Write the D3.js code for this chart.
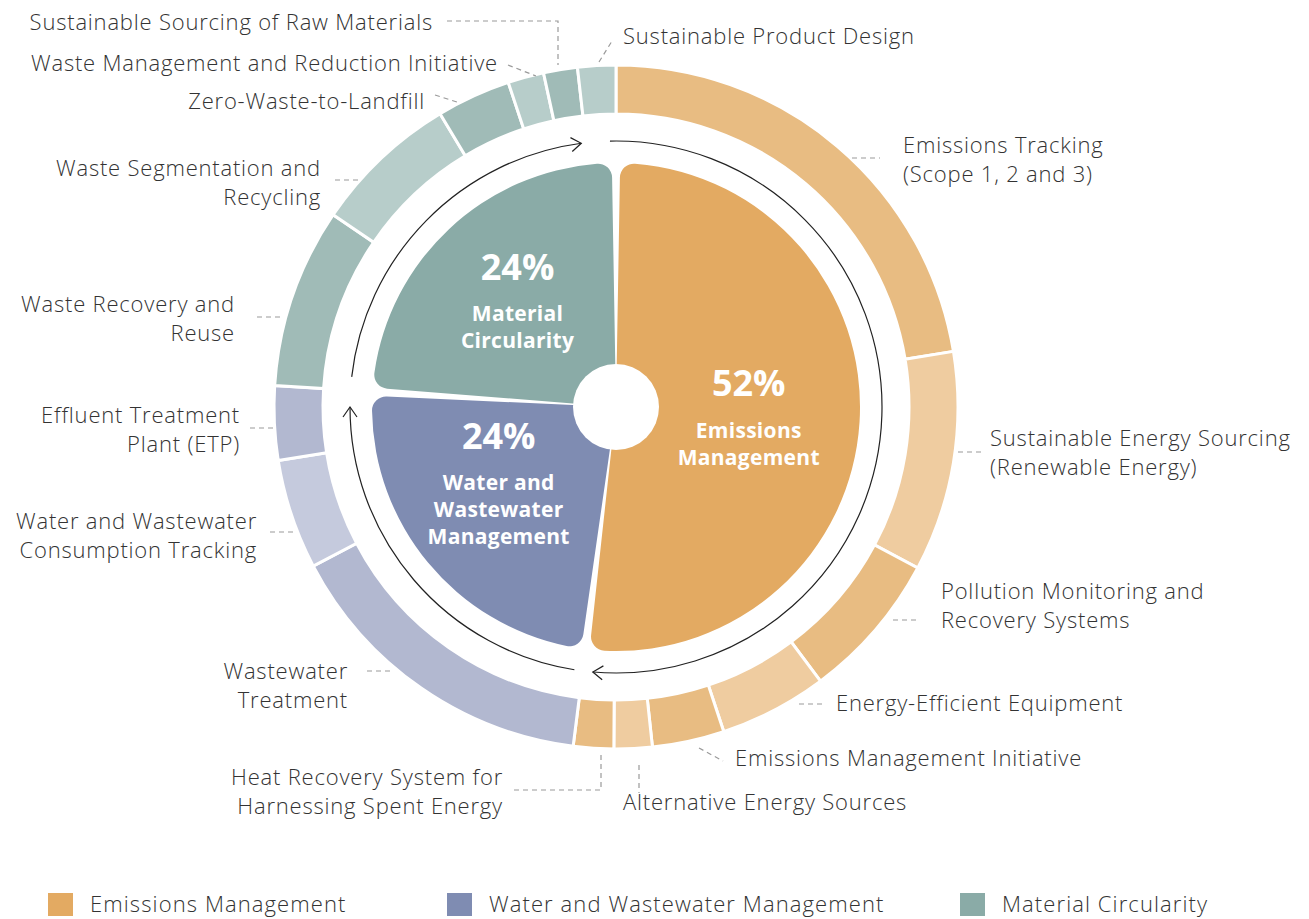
<!DOCTYPE html>
<html>
<head>
<meta charset="utf-8">
<script src="https://cdn.jsdelivr.net/npm/d3@7"></script>
<style>
  body { margin: 0; background: #fff; }
  text { font-family: "Open Sans", Roboto, "Liberation Sans", sans-serif; }
</style>
</head>
<body>
<div id="chart"></div>
<script>
// inner pie: the three focus areas
const categories = ["Emissions Management", "Water and Wastewater Management", "Material Circularity"];
const categoryShare = [52, 24, 24];
const categoryPct = ["52%", "24%", "24%"];

// outer ring: initiatives, clockwise from 12 o'clock
const initiatives = [
  "Emissions Tracking (Scope 1, 2 and 3)",
  "Sustainable Energy Sourcing (Renewable Energy)",
  "Pollution Monitoring and Recovery Systems",
  "Energy-Efficient Equipment",
  "Emissions Management Initiative",
  "Alternative Energy Sources",
  "Heat Recovery System for Harnessing Spent Energy",
  "Wastewater Treatment",
  "Water and Wastewater Consumption Tracking",
  "Effluent Treatment Plant (ETP)",
  "Waste Recovery and Reuse",
  "Waste Segmentation and Recycling",
  "Zero-Waste-to-Landfill",
  "Waste Management and Reduction Initiative",
  "Sustainable Sourcing of Raw Materials",
  "Sustainable Product Design"
];
const initiativeShare = [22.4, 10.4, 7.0, 5.1, 3.4, 1.8, 1.9, 15.3, 5.2, 3.5, 8.5, 6.9, 3.5, 1.7, 1.6, 1.8];
const initiativeGroup = [0, 0, 0, 0, 0, 0, 0, 1, 1, 1, 2, 2, 2, 2, 2, 2];

// colours
const mainColor = ["#E3AA62", "#7F8CB2", "#8AABA7"];
const shadeColor = [["#E8BC82", "#EFCCA0"], ["#B2B8D0", "#C5CADD"], ["#A0BBB7", "#B7CDCA"]];

// label placement (text lines, anchor point, leader polyline)
const labelLayout = [
  { lines: ["Emissions Tracking", "(Scope 1, 2 and 3)"], x: 903, y: 144, a: "start", lead: [[852, 158], [880, 158]] },
  { lines: ["Sustainable Energy Sourcing", "(Renewable Energy)"], x: 990, y: 437, a: "start", lead: [[958, 452], [985, 452]] },
  { lines: ["Pollution Monitoring and", "Recovery Systems"], x: 941, y: 590, a: "start", lead: [[893, 620], [920, 620]] },
  { lines: ["Energy-Efficient Equipment"], x: 836, y: 702, a: "start", lead: [[799, 704], [825, 704]] },
  { lines: ["Emissions Management Initiative"], x: 735, y: 757, a: "start", lead: [[699, 748], [723, 761]] },
  { lines: ["Alternative Energy Sources"], x: 623, y: 801, a: "start", lead: [[639, 765], [639, 793]] },
  { lines: ["Heat Recovery System for", "Harnessing Spent Energy"], x: 503, y: 776, a: "end", lead: [[601, 755], [601, 790], [512, 790]] },
  { lines: ["Wastewater", "Treatment"], x: 348, y: 670, a: "end", lead: [[367, 671], [393, 671]] },
  { lines: ["Water and Wastewater", "Consumption Tracking"], x: 257, y: 520, a: "end", lead: [[270, 532], [297, 532]] },
  { lines: ["Effluent Treatment", "Plant (ETP)"], x: 240, y: 414, a: "end", lead: [[250, 428], [273, 428]] },
  { lines: ["Waste Recovery and", "Reuse"], x: 235, y: 303, a: "end", lead: [[257, 317], [283, 317]] },
  { lines: ["Waste Segmentation and", "Recycling"], x: 321, y: 167, a: "end", lead: [[335, 180], [362, 180]] },
  { lines: ["Zero-Waste-to-Landfill"], x: 425, y: 100, a: "end", lead: [[435, 95], [460, 103]] },
  { lines: ["Waste Management and Reduction Initiative"], x: 498, y: 62, a: "end", lead: [[508, 65], [536, 76]] },
  { lines: ["Sustainable Sourcing of Raw Materials"], x: 433, y: 21, a: "end", lead: [[447, 21], [558, 21], [558, 65]] },
  { lines: ["Sustainable Product Design"], x: 623, y: 35, a: "start", lead: [[599, 62], [612, 41]] }
];
const centerLines = [["Emissions", "Management"], ["Water and", "Wastewater", "Management"], ["Material", "Circularity"]];
const centerNudge = [[-5, 4], [-11, -9], [-4, -3]];

const width = 1309, height = 919;
const cx = 616, cy = 407;

const svg = d3.select("#chart").append("svg")
  .attr("width", width).attr("height", height);

const g = svg.append("g").attr("transform", `translate(${cx},${cy})`);

// outer ring
const ringPie = d3.pie().sort(null).value((d) => d.v);
const ringData = ringPie(initiatives.map((name, i) => ({ name, v: initiativeShare[i], grp: initiativeGroup[i], i })));
const ringArc = d3.arc().innerRadius(293).outerRadius(342);

// shade alternates inside each group
const groupIndex = {};
ringData.forEach((d) => {
  const k = d.data.grp;
  groupIndex[k] = (groupIndex[k] ?? -1) + 1;
  d.shade = shadeColor[k][groupIndex[k] % 2];
});

g.append("g").selectAll("path")
  .data(ringData)
  .join("path")
  .attr("d", ringArc)
  .attr("fill", (d) => d.shade)
  .attr("stroke", "#fff")
  .attr("stroke-width", 3);

// inner pie
const pie = d3.pie().sort(null).value((d) => d);
const pieData = pie(categoryShare);
const arc = d3.arc().innerRadius(0).outerRadius(244).cornerRadius(14).padAngle(0.034);

g.append("g").selectAll("path")
  .data(pieData)
  .join("path")
  .attr("d", arc)
  .attr("fill", (d, i) => mainColor[i]);

g.append("circle").attr("r", 43).attr("fill", "#fff");

// labels inside the pie
const labelArc = d3.arc().innerRadius(138).outerRadius(138);
pieData.forEach((d, i) => {
  let [x, y] = labelArc.centroid(d);
  x += centerNudge[i][0];
  y += centerNudge[i][1];
  const lines = centerLines[i];
  const span = 47 + 27 * (lines.length - 1);
  const top = y - span / 2;
  const t = g.append("g").attr("fill", "#fff").attr("text-anchor", "middle");
  t.append("text")
    .attr("x", x).attr("y", top)
    .attr("dominant-baseline", "central")
    .attr("font-size", 36).attr("font-weight", 700)
    .text(categoryPct[i]);
  lines.forEach((l, j) => {
    t.append("text")
      .attr("x", x).attr("y", top + 47 + j * 27)
      .attr("dominant-baseline", "central")
      .attr("font-size", 21).attr("font-weight", 700)
      .attr("letter-spacing", 0.3)
      .text(l);
  });
});

// arrows around the pie (clockwise)
const arrowR = 266;
const arrowSpans = [[-1.3, 185], [189, 270], [276.5, 352.5]];
const rad = (deg) => (deg * Math.PI) / 180;
arrowSpans.forEach(([a0, a1]) => {
  const p = d3.path();
  p.arc(0, 0, arrowR, rad(a0 - 90), rad(a1 - 90), false);
  g.append("path").attr("d", p.toString())
    .attr("fill", "none").attr("stroke", "#222").attr("stroke-width", 1.2);
  const th = rad(a1);
  const tip = [arrowR * Math.sin(th), -arrowR * Math.cos(th)];
  const tan = [Math.cos(th), Math.sin(th)];
  const nor = [Math.sin(th), -Math.cos(th)];
  const back = 10, side = 7;
  const h = d3.path();
  h.moveTo(tip[0] - tan[0] * back + nor[0] * side, tip[1] - tan[1] * back + nor[1] * side);
  h.lineTo(tip[0], tip[1]);
  h.lineTo(tip[0] - tan[0] * back - nor[0] * side, tip[1] - tan[1] * back - nor[1] * side);
  g.append("path").attr("d", h.toString())
    .attr("fill", "none").attr("stroke", "#222").attr("stroke-width", 1.2);
});

// outer labels with dashed leaders
const lab = svg.append("g");
labelLayout.forEach((d) => {
  lab.append("path")
    .attr("d", d3.line()(d.lead))
    .attr("fill", "none")
    .attr("stroke", "#9a9a9a")
    .attr("stroke-width", 1.2)
    .attr("stroke-dasharray", "5,4");
  d.lines.forEach((l, j) => {
    lab.append("text")
      .attr("x", d.x).attr("y", d.y + j * 28.5)
      .attr("text-anchor", d.a)
      .attr("dominant-baseline", "central")
      .attr("font-size", 22).attr("font-weight", 300)
      .attr("letter-spacing", 0.8)
      .attr("fill", "#333")
      .text(l);
  });
});

// legend
const legendX = [48, 447, 960];
const legend = svg.append("g");
categories.forEach((c, i) => {
  legend.append("rect")
    .attr("x", legendX[i]).attr("y", 893)
    .attr("width", 25).attr("height", 23)
    .attr("fill", mainColor[i]);
  legend.append("text")
    .attr("x", legendX[i] + 42).attr("y", 903)
    .attr("dominant-baseline", "central")
    .attr("font-size", 22).attr("font-weight", 300)
    .attr("letter-spacing", 1.1)
    .attr("fill", "#333")
    .text(c);
});
</script>
</body>
</html>
